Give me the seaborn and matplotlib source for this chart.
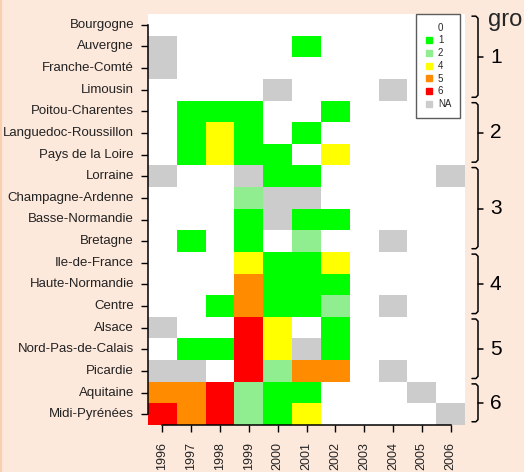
import numpy as np
import pandas as pd
import seaborn as sns
import matplotlib.pyplot as plt
from matplotlib.colors import ListedColormap
from matplotlib.lines import Line2D
from matplotlib.transforms import blended_transform_factory

regions = ["Bourgogne", "Auvergne", "Franche-Comté", "Limousin",
           "Poitou-Charentes", "Languedoc-Roussillon", "Pays de la Loire",
           "Lorraine", "Champagne-Ardenne", "Basse-Normandie", "Bretagne",
           "Ile-de-France", "Haute-Normandie", "Centre", "Alsace",
           "Nord-Pas-de-Calais", "Picardie", "Aquitaine", "Midi-Pyrénées"]
years = list(range(1996, 2007))
NA = None
values = [
    [0, 0, 0, 0, 0, 0, 0, 0, 0, 0, 0],
    [NA, 0, 0, 0, 0, 1, 0, 0, 0, 0, 0],
    [NA, 0, 0, 0, 0, 0, 0, 0, 0, 0, 0],
    [0, 0, 0, 0, NA, 0, 0, 0, NA, 0, 0],
    [0, 1, 1, 1, 0, 0, 1, 0, 0, 0, 0],
    [0, 1, 4, 1, 0, 1, 0, 0, 0, 0, 0],
    [0, 1, 4, 1, 1, 0, 4, 0, 0, 0, 0],
    [NA, 0, 0, NA, 1, 1, 0, 0, 0, 0, NA],
    [0, 0, 0, 2, NA, NA, 0, 0, 0, 0, 0],
    [0, 0, 0, 1, NA, 1, 1, 0, 0, 0, 0],
    [0, 1, 0, 1, 0, 2, 0, 0, NA, 0, 0],
    [0, 0, 0, 4, 1, 1, 4, 0, 0, 0, 0],
    [0, 0, 0, 5, 1, 1, 1, 0, 0, 0, 0],
    [0, 0, 1, 5, 1, 1, 2, 0, NA, 0, 0],
    [NA, 0, 0, 6, 4, 0, 1, 0, 0, 0, 0],
    [0, 1, 1, 6, 4, NA, 1, 0, 0, 0, 0],
    [NA, NA, 0, 6, 2, 5, 5, 0, NA, 0, 0],
    [5, 5, 6, 2, 1, 1, 0, 0, 0, NA, 0],
    [6, 5, 6, 2, 1, 4, 0, 0, 0, 0, NA],
]
codes = ["0", "1", "2", "4", "5", "6", "NA"]
colors = ["#FFFFFF", "#00FF00", "#90EE90", "#FFFF00", "#FF8C00", "#FF0000", "#CCCCCC"]
groups = ["1", "2", "3", "4", "5", "6"]
group_rows = [(0, 3), (4, 6), (7, 10), (11, 13), (14, 16), (17, 18)]
# only the start of the title fits in the picture
group_title = "gro"

bg = "#FDE9DC"
W, H = 524, 472

# map each value to its colour index
idx = {c: i for i, c in enumerate(codes)}
mat = [[idx["NA" if v is None else str(v)] for v in row] for row in values]
df = pd.DataFrame(mat, index=regions, columns=years)

sns.set_style("white")
plt.rcParams["font.family"] = ["Liberation Sans", "DejaVu Sans"]

fig = plt.figure(figsize=(W / 100, H / 100), dpi=100, facecolor=bg)
ax = fig.add_axes([148 / W, 1 - 425 / H, (465 - 148) / W, (425 - 14) / H])

sns.heatmap(df, cmap=ListedColormap(colors), vmin=-0.5, vmax=len(codes) - 0.5,
            cbar=False, ax=ax, linewidths=0)

ax.set_xlabel("")
ax.set_ylabel("")
ax.set_xticklabels([str(y) for y in years], rotation=90, fontsize=9)
ax.set_yticklabels(regions, rotation=0, fontsize=9.5)
ax.tick_params(axis="both", length=5, width=1, color="black", labelcolor="#222222",
               bottom=True, left=True)
ax.tick_params(axis="y", pad=5)
ax.tick_params(axis="x", pad=7)

for s in ["top", "right"]:
    ax.spines[s].set_visible(False)
for s in ["left", "bottom"]:
    ax.spines[s].set_visible(True)
    ax.spines[s].set_color("black")
    ax.spines[s].set_linewidth(1.1)
ax.spines["left"].set_bounds(0.5, len(regions) - 0.5)
ax.spines["bottom"].set_bounds(0.5, len(years) - 0.5)

# legend
handles = []
for c, col in zip(codes, colors):
    handles.append(Line2D([], [], marker="s", linestyle="none", markersize=4,
                          markerfacecolor=col, markeredgecolor=col))
leg = ax.legend(handles, codes, loc="upper right",
                bbox_to_anchor=(460 / W, 1 - 14 / H), bbox_transform=fig.transFigure,
                fontsize=7, frameon=True, fancybox=False, handlelength=0.8,
                handletextpad=0.5, labelspacing=0.28, borderpad=0.9,
                borderaxespad=0)
leg.get_frame().set_edgecolor("#333333")
leg.get_frame().set_linewidth(1.0)

# curly brackets for the groups, right of the plot
tr = blended_transform_factory(fig.transFigure, ax.transData)
xl, xv, xr = 472 / W, 478 / W, 483 / W
for g, (a, b) in zip(groups, group_rows):
    top, bot = a + 0.1, b + 1 - 0.15
    mid = (a + b + 1) / 2
    ax.plot([xl, xv - 0.004, xv, xv, xv - 0.004, xl],
            [top, top, top + 0.1, bot - 0.1, bot, bot],
            color="black", lw=1.1, transform=tr, clip_on=False)
    ax.plot([xv, xr], [mid, mid], color="black", lw=1.1, transform=tr, clip_on=False)
    ax.text(490 / W, mid, g, fontsize=15, va="center", ha="left",
            transform=tr, color="black")

fig.text(488 / W, 1 - 26 / H, group_title, fontsize=17, va="baseline", ha="left")
fig.add_artist(Line2D([0.5 / W, 0.5 / W], [0, 1], color="#F9CFAE", lw=1.5,
                      transform=fig.transFigure))

fig.savefig("out.png", dpi=100, facecolor=bg)
